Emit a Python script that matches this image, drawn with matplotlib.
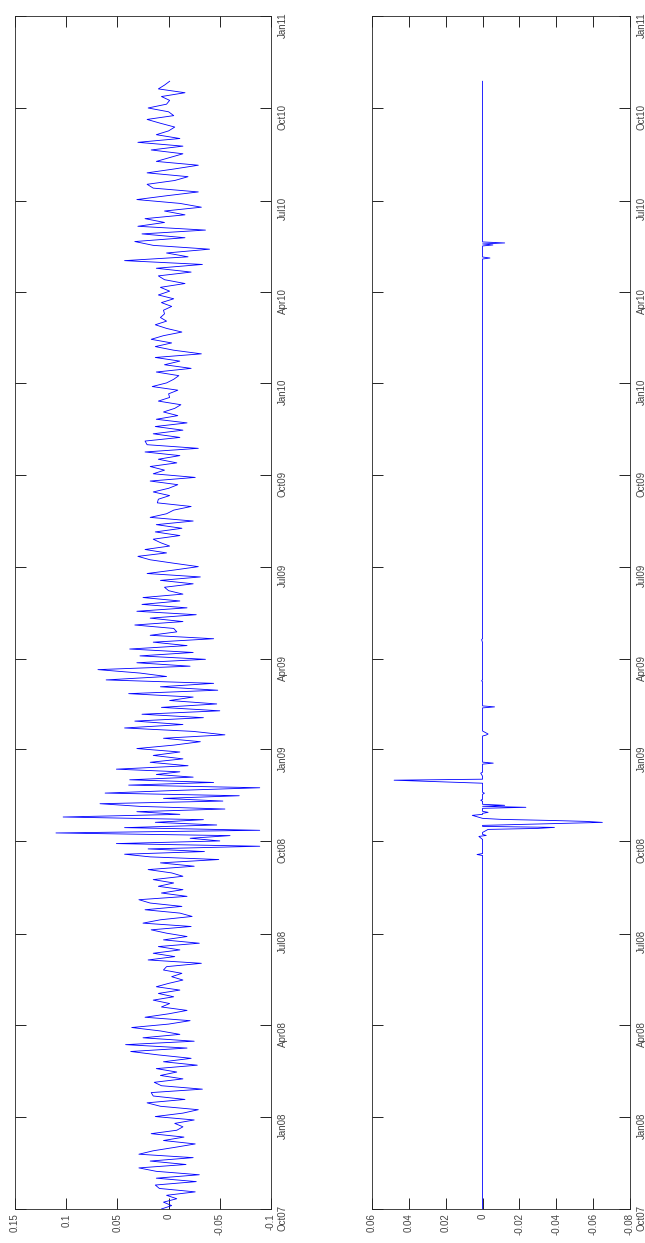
import numpy as np
import pandas as pd
import matplotlib
matplotlib.use('Agg')
import matplotlib.pyplot as plt
import matplotlib.dates as mdates

# top panel: daily returns (units of 0.001), split in date segments
seg_bounds = ['2007-10-01', '2008-04-26', '2008-09-13', '2008-12-12',
              '2009-07-29', '2010-03-14', '2010-10-28']

ret_oct07_apr08 = [7, -3, 5, -8, 2, -26, 9, 13, -27, 12, -30, 12, 29, -17, 18, -24, 29, 15, -6, -26,
                   5, -15, 17, -8, -14, -6, -25, 13, -14, -29, 8, 21, -16, 15, 17, -33, 7, 14, -14, 8,
                   -8, 12, -28, 5, -22, 10, 37, -18, 42, -25, 25, -11, 8, 36, 0, -21, 23, 0, -18, 7, -1]
ret_apr08_sep08 = [15, -5, 10, -11, 12, 0, -14, -3, -13, 5, 2, -32, 20, -6, 15, -11, 10, -30, 5, -18,
                   2, 17, -22, 25, 8, -23, -11, 23, -13, 18, 29, -18, 7, -14, 10, -5, 15, -14, -3, 20,
                   -25, 8]
ret_sep08_dec08 = [-49, 18, 43, -35, 20, -89, 51, -50, -21, -60, 110, -89, 43, -47, 13, -34, 103, -11,
                   31, -55, 28, 67, -53, 5, -69, 62, -8, -89, 39, -44, 38, -24, 12, -11]
ret_dec08_jul09 = [51, -19, 18, -14, 15, -11, 31, -5, -31, 5, -55, -24, 43, -14, 33, -34, 26, -50, 7, -47,
                   -1, -24, 39, -48, 8, -44, 61, 2, 28, 69, -21, 31, -36, 28, -24, 38, -18, 15, -44, 18,
                   -8, -5, 33, -14, 18, -27, 31, -18, 26, -11, 25, -14, 0, 4, -24, 8, -31, 21, -5, -29,
                   -5, 18, 30, 2, 23, -1, 8]
ret_jul09_mar10 = [15, -11, 13, -13, 12, -24, 18, 2, -5, -22, 11, 10, -1, 15, 0, -9, 18, -26, 15, 4,
                   18, -8, 10, -11, 23, -29, 21, 23, -11, 15, -14, 13, -18, 12, -9, 5, -6, -12, 10, -1,
                   0, -9, 16, 2, -5, -10, 12, -22, 4, -11, 13, -32, -5, 13, -3, 17, 5, -13, 2, 13, 2, 8, 4]
ret_mar10_oct10 = [5, -3, 7, -5, 10, -1, 8, -16, 4, 10, -22, 12, -33, 43, -19, 2, -40, 15, 33, -16,
                   26, -36, 30, 4, 23, -16, 4, -32, -11, 31, 2, -29, 15, 21, -6, -19, 21, -5, -29, 12,
                   -1, -14, 17, -14, 30, -11, 12, 0, -6, 8, 21, -5, 0, 20, 2, -1, 7, -16, 10, 4, -1]
segments = [ret_oct07_apr08, ret_apr08_sep08, ret_sep08_dec08,
            ret_dec08_jul09, ret_jul09_mar10, ret_mar10_oct10]

# bottom panel: flat at zero except these spikes
spike_dates = ['2008-09-18', '2008-10-06', '2008-10-07', '2008-10-13', '2008-10-14', '2008-10-15',
               '2008-10-20', '2008-10-21', '2008-10-22', '2008-10-23', '2008-10-27', '2008-10-30',
               '2008-11-04', '2008-11-06', '2008-11-11', '2008-11-18', '2008-12-01',
               '2008-12-08', '2008-12-18', '2009-01-15', '2009-01-16', '2009-02-12', '2009-03-10',
               '2009-04-20', '2010-05-05', '2010-05-18', '2010-05-20']
spike_vals = [0.003, 0.002, -0.002, -0.003, -0.030, -0.039,
              -0.065, -0.056, -0.035, -0.010, 0.0056, -0.003,
              -0.0235, -0.012, 0.001, -0.001, 0.048,
              0.001, -0.0058, -0.002, -0.003, -0.0065, 0.0005,
              0.0005, -0.004, -0.0056, -0.012]

val_ticks_top = [0.15, 0.1, 0.05, 0, -0.05, -0.1]
val_labels_top = ['0.15', '0.1', '0.05', '0', '-0.05', '-0.1']
val_ticks_bot = [0.06, 0.04, 0.02, 0, -0.02, -0.04, -0.06, -0.08]
val_labels_bot = ['0.06', '0.04', '0.02', '0', '-0.02', '-0.04', '-0.06', '-0.08']

# build top series
t_top, v_top = [], []
for i, seg in enumerate(segments):
    a = mdates.date2num(pd.Timestamp(seg_bounds[i]))
    b = mdates.date2num(pd.Timestamp(seg_bounds[i + 1]))
    t_top.extend(np.linspace(a, b, len(seg), endpoint=(i == len(segments) - 1)))
    v_top.extend(np.array(seg) / 1000.0)

# build bottom series
days = pd.bdate_range(seg_bounds[0], seg_bounds[-1])
flat = pd.Series(0.0, index=days)
idx = days.get_indexer(pd.to_datetime(spike_dates), method='nearest')
flat.iloc[idx] = spike_vals

plt.rcParams['font.family'] = ['Liberation Sans', 'DejaVu Sans']
fig = plt.figure(figsize=(6.45, 12.43), dpi=100)
ax1 = fig.add_axes([15 / 645, 34 / 1243, 256 / 645, 1193 / 1243])
ax2 = fig.add_axes([372 / 645, 34 / 1243, 258 / 645, 1193 / 1243])

quarters = pd.date_range('2007-10-01', '2011-01-01', freq='QS')
q_labels = [d.strftime('%b%y') for d in quarters]

ax1.plot(v_top, t_top, color='#0000ff', lw=0.6)
ax2.plot(flat.values, mdates.date2num(flat.index), color='#0000ff', lw=0.6)

for ax, ticks, labels in [(ax1, val_ticks_top, val_labels_top), (ax2, val_ticks_bot, val_labels_bot)]:
    ax.set_xlim(ticks[0], ticks[-1])
    ax.set_ylim(mdates.date2num(quarters[0]), mdates.date2num(quarters[-1]))
    ax.set_xticks(ticks)
    ax.set_xticklabels(labels)
    ax.set_yticks(mdates.date2num(quarters))
    ax.set_yticklabels(q_labels)
    ax.tick_params(axis='x', which='both', direction='in', top=True, bottom=True,
                   length=8, width=0.6, pad=3, labelsize=7, labelcolor='#444444', labelrotation=90)
    ax.tick_params(axis='y', which='both', direction='in', left=True, right=True,
                   labelleft=False, labelright=True, length=8, width=0.6, pad=5,
                   labelsize=7, labelcolor='#444444', labelrotation=90)
    for sp in ax.spines.values():
        sp.set_linewidth(0.6)
        sp.set_color('#222222')

fig.savefig('out.png', dpi=100)
